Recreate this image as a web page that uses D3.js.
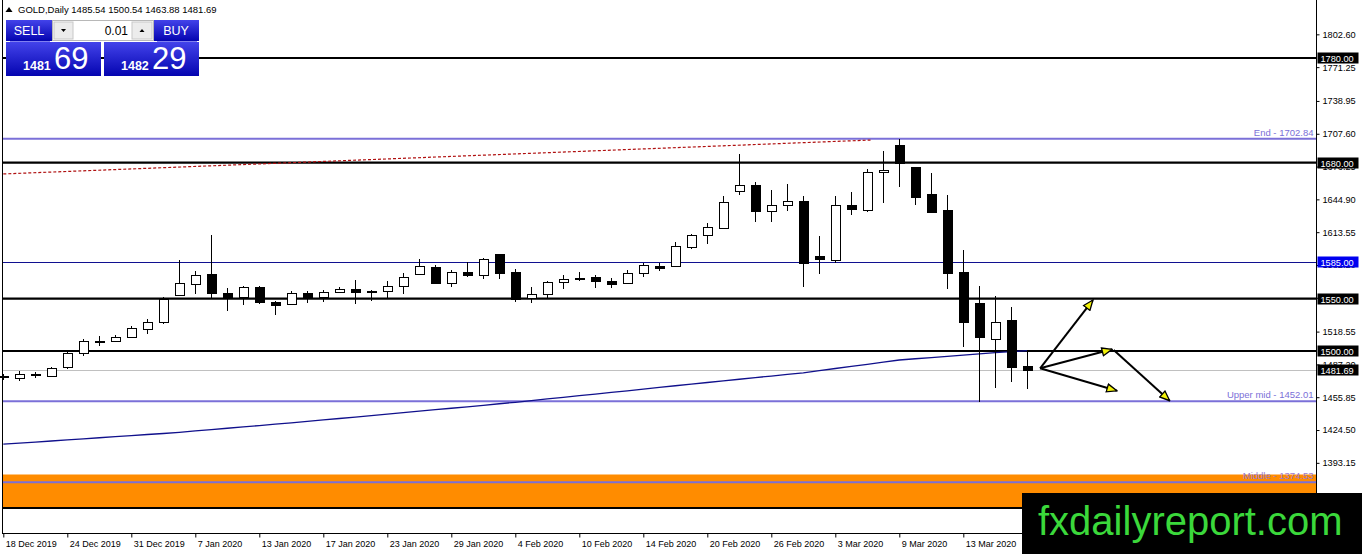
<!DOCTYPE html>
<html>
<head>
<meta charset="utf-8">
<script src="https://cdn.jsdelivr.net/npm/d3@7"></script>
<style>
  body { margin: 0; background: #fff; overflow: hidden; }
  svg { display: block; font-family: "Liberation Sans", Arial, sans-serif; }
</style>
</head>
<body>
<script>
// daily bars, 18 Dec 2019 .. 19 Mar 2020
var dates = [
  "18 Dec 2019", "19 Dec 2019", "20 Dec 2019", "23 Dec 2019", "24 Dec 2019", "26 Dec 2019", "27 Dec 2019", "30 Dec 2019", "31 Dec 2019",
  "2 Jan 2020", "3 Jan 2020", "6 Jan 2020", "7 Jan 2020", "8 Jan 2020", "9 Jan 2020", "10 Jan 2020", "13 Jan 2020", "14 Jan 2020",
  "15 Jan 2020", "16 Jan 2020", "17 Jan 2020", "20 Jan 2020", "21 Jan 2020", "22 Jan 2020", "23 Jan 2020", "24 Jan 2020", "27 Jan 2020",
  "28 Jan 2020", "29 Jan 2020", "30 Jan 2020", "31 Jan 2020",
  "3 Feb 2020", "4 Feb 2020", "5 Feb 2020", "6 Feb 2020", "7 Feb 2020", "10 Feb 2020", "11 Feb 2020", "12 Feb 2020", "13 Feb 2020",
  "14 Feb 2020", "17 Feb 2020", "18 Feb 2020", "19 Feb 2020", "20 Feb 2020", "21 Feb 2020", "24 Feb 2020", "25 Feb 2020", "26 Feb 2020",
  "27 Feb 2020", "28 Feb 2020",
  "2 Mar 2020", "3 Mar 2020", "4 Mar 2020", "5 Mar 2020", "6 Mar 2020", "9 Mar 2020", "10 Mar 2020", "11 Mar 2020", "12 Mar 2020",
  "13 Mar 2020", "16 Mar 2020", "17 Mar 2020", "18 Mar 2020", "19 Mar 2020"
];

var opens = [
  1475.8, 1474.0, 1477.8, 1476.4, 1484.4, 1497.8, 1509.4, 1509.8, 1513.1, 1520.7,
  1527.4, 1553.2, 1563.7, 1573.6, 1555.1, 1551.3, 1560.9, 1547.1, 1544.6, 1555.1,
  1550.9, 1556.1, 1559.2, 1557.3, 1556.7, 1561.5, 1573.3, 1580.3, 1565.3, 1575.5,
  1572.3, 1592.7, 1575.5, 1550.4, 1554.2, 1565.6, 1569.5, 1570.4, 1566.9, 1564.7,
  1574.3, 1581.2, 1580.9, 1599.7, 1610.2, 1617.5, 1652.2, 1658.3, 1633.4, 1639.2,
  1643.4, 1590.8, 1586.3, 1639.2, 1635.0, 1670.8, 1696.9, 1675.8, 1650.0, 1634.7,
  1575.5, 1545.9, 1511.2, 1529.6, 1485.54
];
var highs = [
  1478.0, 1480.6, 1479.9, 1485.0, 1498.7, 1511.2, 1514.3, 1515.6, 1523.9, 1530.3,
  1551.9, 1587.0, 1576.5, 1610.5, 1560.0, 1562.1, 1561.8, 1547.5, 1557.2, 1557.2,
  1558.1, 1560.8, 1567.8, 1558.0, 1566.9, 1574.8, 1587.6, 1582.5, 1577.4, 1585.0,
  1588.9, 1592.7, 1578.4, 1560.9, 1566.9, 1572.3, 1575.5, 1573.0, 1569.5, 1577.4,
  1583.8, 1583.8, 1604.0, 1611.8, 1622.0, 1648.1, 1688.3, 1661.2, 1653.9, 1659.6,
  1648.1, 1609.9, 1648.1, 1652.0, 1674.2, 1690.8, 1702.8, 1675.8, 1670.1, 1649.1,
  1596.5, 1562.4, 1552.6, 1541.8, 1500.54
];
var lows = [
  1472.0, 1471.6, 1474.2, 1475.4, 1482.5, 1495.5, 1504.8, 1508.9, 1512.4, 1516.2,
  1525.8, 1553.2, 1554.2, 1550.4, 1538.5, 1544.0, 1545.0, 1534.0, 1544.2, 1546.1,
  1547.0, 1555.2, 1544.9, 1548.0, 1550.4, 1554.5, 1573.3, 1563.7, 1561.5, 1571.0,
  1569.1, 1569.1, 1547.1, 1546.2, 1551.0, 1559.0, 1566.6, 1560.0, 1560.0, 1563.7,
  1571.0, 1576.5, 1580.9, 1597.5, 1602.3, 1616.6, 1649.1, 1623.6, 1623.6, 1634.1,
  1561.5, 1573.6, 1584.4, 1630.2, 1633.1, 1641.7, 1656.3, 1639.2, 1631.6, 1559.0,
  1503.5, 1451.0, 1464.3, 1470.7, 1463.88
];
var closes = [
  1475.0, 1478.0, 1477.0, 1483.8, 1497.8, 1509.3, 1509.9, 1513.7, 1521.7, 1527.4,
  1549.4, 1564.8, 1572.6, 1555.1, 1550.0, 1560.8, 1546.2, 1544.2, 1555.1, 1550.0,
  1556.1, 1559.2, 1556.7, 1557.0, 1561.8, 1570.4, 1581.2, 1565.3, 1575.5, 1572.9,
  1587.6, 1574.8, 1550.0, 1554.2, 1565.6, 1568.5, 1570.0, 1566.6, 1564.3, 1574.3,
  1582.2, 1579.6, 1600.3, 1610.9, 1618.1, 1642.4, 1658.3, 1633.1, 1639.2, 1643.1,
  1584.4, 1588.2, 1639.2, 1635.0, 1671.0, 1672.6, 1680.0, 1647.5, 1633.1, 1574.8,
  1528.0, 1513.1, 1527.4, 1485.0, 1481.69
];

// slow moving average
var ma = [
  1411.1, 1412.0, 1413.0, 1414.0, 1415.1, 1416.1, 1417.1, 1418.1, 1419.2, 1420.2, 1421.2, 1422.3,
  1423.6, 1424.9, 1426.2, 1427.5, 1428.8, 1430.1, 1431.4, 1432.8, 1434.1,
  1435.5, 1436.9, 1438.3, 1439.7, 1441.1, 1442.5, 1443.9, 1445.3, 1446.7, 1448.1, 1449.6, 1451.0,
  1452.6, 1454.2, 1455.7, 1457.3, 1458.9, 1460.5, 1462.0, 1463.6, 1465.2, 1466.8, 1468.3, 1469.9,
  1471.5, 1473.0, 1474.6, 1476.1, 1477.7, 1479.2,
  1481.2, 1483.3, 1485.3, 1487.3, 1489.4, 1491.4,
  1492.6, 1493.7, 1494.9, 1496.0, 1497.2, 1498.4, 1499.5, 1500.3
];

var yTicks = [1802.60, 1771.25, 1738.95, 1707.60, 1676.25, 1644.90, 1613.55, 1582.20,
              1550.85, 1518.55, 1487.20, 1455.85, 1424.50, 1393.15, 1361.80];

var blackLevels = [1780, 1680, 1550, 1500];
var zoneBase = 1350;
var blueLevel = 1585;
var fibNames = ["End", "Upper mid", "Middle"];
var fibLevels = [1702.84, 1452.01, 1374.53];
var zone = [1350, 1382];
var trendline = [[0, 1669.2], [54.2, 1701.6]];
var arrows = [
  [[64.8, 1483.5], [68.1, 1548.7]],
  [[64.8, 1483.5], [69.3, 1501.6]],
  [[69.4, 1501.0], [72.9, 1452.5]],
  [[64.8, 1483.5], [69.6, 1462.0]]
];
var bid = 1481.69;
var ask = 1482.29;
var lot = "0.01";

var W = 1362, H = 554;
var right = 1316.5, bottom = 533.5;

var x = d3.scaleLinear().domain([0, 64]).range([3.3, 1027.3]);
var y = d3.scaleLinear().domain([1326.1, 1833.5]).range([533, 2]);

var svg = d3.select("body").append("svg")
  .attr("width", W)
  .attr("height", H);

var defs = svg.append("defs");
var grad = defs.append("linearGradient").attr("id", "btn").attr("x1", 0).attr("y1", 0).attr("x2", 0).attr("y2", 1);
grad.append("stop").attr("offset", "0%").attr("stop-color", "#4343ea");
grad.append("stop").attr("offset", "100%").attr("stop-color", "#0404b0");

defs.append("marker")
  .attr("id", "head")
  .attr("viewBox", "0 0 12 10")
  .attr("refX", 11).attr("refY", 5)
  .attr("markerWidth", 12).attr("markerHeight", 10)
  .attr("markerUnits", "userSpaceOnUse")
  .attr("orient", "auto")
  .append("path")
  .attr("d", "M1,1 L11,5 L1,9 Z")
  .attr("fill", "#f2f20a")
  .attr("stroke", "#000")
  .attr("stroke-width", 1.3);

var plot = svg.append("g");

// orange zone
plot.append("rect")
  .attr("x", 3).attr("width", right - 3)
  .attr("y", y(zone[1])).attr("height", y(zone[0]) - y(zone[1]))
  .attr("fill", "#ff8c00");

// bid line
plot.append("line")
  .attr("x1", 3).attr("x2", right)
  .attr("y1", Math.round(y(bid)) + 0.5).attr("y2", Math.round(y(bid)) + 0.5)
  .attr("stroke", "#c0c0c0").attr("stroke-width", 1);

// horizontal levels
plot.selectAll(".lvl").data(blackLevels.concat([zoneBase])).enter().append("line")
  .attr("x1", 3).attr("x2", right)
  .attr("y1", function(d) { return y(d); }).attr("y2", function(d) { return y(d); })
  .attr("stroke", "#000").attr("stroke-width", 2.2);

plot.append("line")
  .attr("x1", 3).attr("x2", right)
  .attr("y1", Math.round(y(blueLevel)) + 0.5).attr("y2", Math.round(y(blueLevel)) + 0.5)
  .attr("stroke", "#101090").attr("stroke-width", 1);

plot.selectAll(".fib").data(fibLevels).enter().append("line")
  .attr("x1", 3).attr("x2", right)
  .attr("y1", function(d) { return y(d); }).attr("y2", function(d) { return y(d); })
  .attr("stroke", "#7b70d8").attr("stroke-width", 2);

plot.selectAll(".fibtxt").data(fibLevels).enter().append("text")
  .attr("x", right - 3)
  .attr("y", function(d) { return y(d) - 3; })
  .attr("text-anchor", "end")
  .attr("font-size", "9.5px")
  .attr("fill", function(d, i) { return i == 2 ? "#9a78d0" : "#7b70d8"; })
  .text(function(d, i) { return fibNames[i] + " - " + d.toFixed(2); });

// red dotted trend line
plot.append("line")
  .attr("x1", x(trendline[0][0])).attr("y1", y(trendline[0][1]))
  .attr("x2", x(trendline[1][0])).attr("y2", y(trendline[1][1]))
  .attr("stroke", "#b01010").attr("stroke-width", 1.2)
  .attr("stroke-dasharray", "3,2");

// moving average
var maLine = d3.line()
  .x(function(d, i) { return x(i); })
  .y(function(d) { return y(d); });
plot.append("path")
  .attr("d", maLine(ma))
  .attr("fill", "none")
  .attr("stroke", "#10108c").attr("stroke-width", 1.3);

// candles
var idx = d3.range(dates.length);
var candles = plot.selectAll(".c").data(idx).enter().append("g");

candles.append("line")
  .attr("x1", function(i) { return Math.round(x(i)) + 0.5; })
  .attr("x2", function(i) { return Math.round(x(i)) + 0.5; })
  .attr("y1", function(i) { return y(highs[i]); })
  .attr("y2", function(i) { return y(lows[i]); })
  .attr("stroke", "#000").attr("stroke-width", 1)
  .attr("shape-rendering", "crispEdges");

candles.append("rect")
  .attr("x", function(i) { return Math.round(x(i)) - 4; })
  .attr("width", 9)
  .attr("y", function(i) { return Math.round(y(Math.max(opens[i], closes[i]))) + 0.5; })
  .attr("height", function(i) { return Math.max(1, Math.round(Math.abs(y(opens[i]) - y(closes[i])))); })
  .attr("fill", function(i) { return closes[i] >= opens[i] ? "#fff" : "#000"; })
  .attr("stroke", "#000").attr("stroke-width", 1)
  .attr("shape-rendering", "crispEdges");

// arrows
plot.selectAll(".arr").data(arrows).enter().append("line")
  .attr("x1", function(d) { return x(d[0][0]); })
  .attr("y1", function(d) { return y(d[0][1]); })
  .attr("x2", function(d) { return x(d[1][0]); })
  .attr("y2", function(d) { return y(d[1][1]); })
  .attr("stroke", "#000").attr("stroke-width", 2)
  .attr("marker-end", "url(#head)");

// frame
svg.append("line").attr("x1", 2.5).attr("x2", 2.5).attr("y1", 0).attr("y2", bottom)
  .attr("stroke", "#000").attr("stroke-width", 1);
svg.append("line").attr("x1", right).attr("x2", right).attr("y1", 0).attr("y2", bottom)
  .attr("stroke", "#000").attr("stroke-width", 1);
svg.append("line").attr("x1", 2).attr("x2", right).attr("y1", bottom).attr("y2", bottom)
  .attr("stroke", "#000").attr("stroke-width", 1);

// price axis
var yAxis = svg.append("g")
  .attr("transform", "translate(" + right + ",0)")
  .call(d3.axisRight(y).tickValues(yTicks).tickSize(3).tickPadding(3).tickFormat(d3.format(".2f")));
yAxis.select(".domain").remove();
yAxis.selectAll("text").attr("font-size", "9.2px").attr("font-family", "Liberation Sans, Arial, sans-serif").attr("fill", "#000");

// time axis
var xAxis = svg.append("g")
  .attr("transform", "translate(0," + bottom + ")")
  .call(d3.axisBottom(x).tickValues(d3.range(0, dates.length, 4)).tickSize(4)
    .tickFormat(function(i) { return dates[i]; }));
xAxis.select(".domain").remove();
xAxis.selectAll("text")
  .attr("text-anchor", "start")
  .attr("x", 2).attr("y", 13).attr("dy", 0)
  .attr("font-size", "9px").attr("font-family", "Liberation Sans, Arial, sans-serif").attr("fill", "#000");

// price tags on the axis
var tags = blackLevels.map(function(d) { return { v: d, c: "#000" }; });
tags.push({ v: blueLevel, c: "#0000f0" });
tags.push({ v: bid, c: "#000" });
var tag = svg.selectAll(".tag").data(tags).enter().append("g");
tag.append("rect")
  .attr("x", right + 1).attr("width", 41)
  .attr("y", function(d) { return Math.round(y(d.v)) - 5.5; })
  .attr("height", 11)
  .attr("fill", function(d) { return d.c; });
tag.append("text")
  .attr("x", right + 4)
  .attr("y", function(d) { return Math.round(y(d.v)) + 3.5; })
  .attr("font-size", "9.2px").attr("fill", "#fff")
  .text(function(d) { return d.v.toFixed(2); });

// title
svg.append("path").attr("d", "M5.5,12 L9,7 L12.5,12 Z").attr("fill", "#000");
svg.append("text").attr("x", 18).attr("y", 13).attr("font-size", "9.5px").attr("fill", "#000")
  .text("GOLD,Daily  " + [opens[64], highs[64], lows[64], closes[64]].map(function(d) { return d.toFixed(2); }).join(" "));

// one-click trading panel
var panel = svg.append("g");
panel.append("rect").attr("x", 6).attr("y", 20).attr("width", 46).attr("height", 21).attr("fill", "url(#btn)");
panel.append("rect").attr("x", 154).attr("y", 20).attr("width", 45).attr("height", 21).attr("fill", "url(#btn)");
panel.append("rect").attr("x", 52.5).attr("y", 20.5).attr("width", 101).attr("height", 20).attr("fill", "#fff").attr("stroke", "#b8b8b8");
panel.append("rect").attr("x", 54).attr("y", 22).attr("width", 19).attr("height", 17).attr("fill", "#ececec").attr("stroke", "#c8c8c8");
panel.append("rect").attr("x", 132).attr("y", 22).attr("width", 20).attr("height", 17).attr("fill", "#ececec").attr("stroke", "#c8c8c8");
panel.append("path").attr("d", "M61,29 L66,29 L63.5,32 Z").attr("fill", "#000");
panel.append("path").attr("d", "M139.5,32 L144.5,32 L142,29 Z").attr("fill", "#000");
panel.append("text").attr("x", 128).attr("y", 35).attr("text-anchor", "end").attr("font-size", "12px").attr("fill", "#000").text(lot);
panel.append("text").attr("x", 29).attr("y", 35).attr("text-anchor", "middle").attr("font-size", "12.5px").attr("fill", "#fff").text("SELL");
panel.append("text").attr("x", 176).attr("y", 35).attr("text-anchor", "middle").attr("font-size", "12.5px").attr("fill", "#fff").text("BUY");
panel.append("line").attr("x1", 10).attr("x2", 50).attr("y1", 41.5).attr("y2", 41.5).attr("stroke", "#8080f0");
panel.append("line").attr("x1", 157).attr("x2", 197).attr("y1", 41.5).attr("y2", 41.5).attr("stroke", "#8080f0");

var quotes = [bid, ask];
var qx = [6, 104];
quotes.forEach(function(q, k) {
  var s = q.toFixed(2).split(".");
  panel.append("rect").attr("x", qx[k]).attr("y", 42).attr("width", 95).attr("height", 34).attr("fill", "url(#btn)");
  panel.append("text").attr("x", qx[k] + 17).attr("y", 70).attr("font-size", "12.5px").attr("font-weight", "bold")
    .attr("fill", "#fff").text(s[0]);
  panel.append("text").attr("x", qx[k] + 48).attr("y", 69).attr("font-size", "31px")
    .attr("fill", "#fff").text(s[1]);
});

// watermark
svg.append("rect").attr("x", 1022).attr("y", 493).attr("width", 340).attr("height", 61).attr("fill", "#000");
svg.append("text").attr("x", 1038).attr("y", 535).attr("font-size", "40px").attr("fill", "#3bd83b")
  .text("fxdailyreport.com");
</script>
</body>
</html>
